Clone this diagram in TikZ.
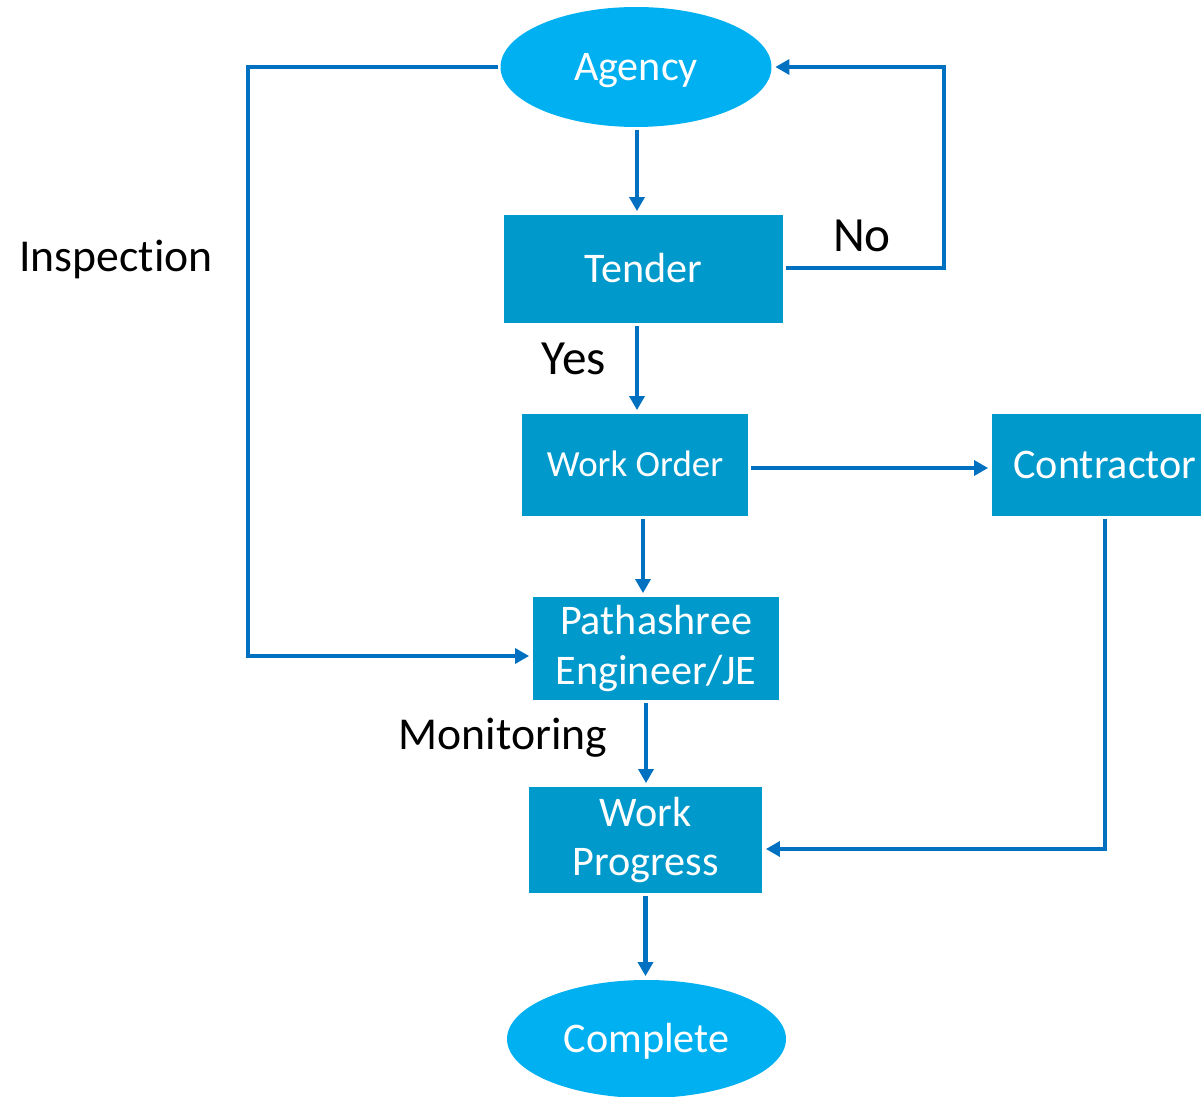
\documentclass[tikz,border=0pt]{standalone}
\usepackage{fontspec}
\setmainfont{Carlito}[Ligatures={NoCommon,NoContextual}]
\usetikzlibrary{arrows.meta,shapes.geometric,positioning}
\definecolor{ovalblue}{HTML}{00B0F0}
\definecolor{boxblue}{HTML}{0099CC}
\definecolor{linkblue}{HTML}{0070C0}
\tikzset{
oval/.style={
  ellipse,
  fill=ovalblue,
  text=white,
  inner sep=0pt,
  text height=15.5pt,
  text depth=0pt,
  font=\fontsize{24}{29}\selectfont
  },
stage/.style 2 args={
  rectangle,
  fill=boxblue,
  text=white,
  inner sep=0pt,
  align=center,
  minimum width=#1*0.02cm,
  minimum height=#2*0.02cm,
  font=\fontsize{24}{28}\selectfont
  },
oneline/.style={
  text height=#1,
  text depth=0pt
  },
oneline/.default=15.5pt,
flow/.style={
  draw=linkblue,
  line width=2.3pt,
  ->,
  shorten <=1.5pt,
  shorten >=2pt
  },
note/.style={
  text=black,
  inner sep=0pt,
  font=\fontsize{26}{30}\selectfont
  }
}

\begin{document}
\begin{tikzpicture}[x=0.02cm,y=-0.02cm,
  >={Triangle[length=8pt,width=8.5pt]}]
\useasboundingbox (0,0) rectangle (1201,1097);

% boxes
\node[oval,minimum width=5.42cm,minimum height=2.4cm] (agency) at (636,67) {Agency};
\node[stage={279}{108},oneline] (tender) at (643.5,269) {Tender};
\node[stage={226}{102},oneline=13.5pt,font=\fontsize{21}{25}\selectfont] (workorder) at (635,465) {Work Order};
\node[stage={226}{102},oneline] (contractor) at (1105,465) {Contractor};
\node[stage={246}{103}] (engineer) at (656,648.5) {Pathashree\\Engineer/JE};
\node[stage={233}{106}] (progress) at (645.5,840) {Work\\Progress};
\node[oval,minimum width=5.58cm,minimum height=2.36cm] (complete) at (646.5,1039) {Complete};

% corner points
\coordinate (noright) at (944,268);
\coordinate (inspleft) at (248,67);
\coordinate (contrdown) at (1105,849);

% links
\draw[flow] ([xshift=0.02cm]agency.south) -- ([xshift=0.02cm]agency.south |- tender.north);
\draw[flow] (tender.east |- noright) -- (noright) |- (agency.east);
\draw[flow] ([xshift=-0.13cm]tender.south) -- ([xshift=-0.13cm]tender.south |- workorder.north);
\draw[flow] ([yshift=-0.06cm]workorder.east) -- ([yshift=-0.06cm]workorder.east -| contractor.west);
\draw[flow] ([xshift=0.16cm]workorder.south) -- ([xshift=0.16cm]workorder.south |- engineer.north);
\draw[flow] (agency.west) -- (inspleft) |- ([yshift=-0.15cm]engineer.west);
\draw[flow] ([xshift=-0.2cm]engineer.south) -- ([xshift=-0.2cm]engineer.south |- progress.north);
\draw[flow] (contractor.south) -- (contrdown) -- (contrdown -| progress.east);
\draw[flow] (progress.south) -- (progress.south |- complete.north);

% labels
\node[note,font=\fontsize{28}{32}\selectfont] (nolabel) at (862,236) {No};
\node[note,font=\fontsize{28}{32}\selectfont] (yeslabel) at (574,359) {Yes};
\node[note] (insplabel) at (116,259) {Inspection};
\node[note] (monlabel) at (503,738) {Monitoring};
\end{tikzpicture}
\end{document}
